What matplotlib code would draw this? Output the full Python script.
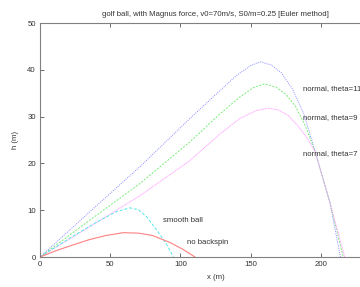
import matplotlib
matplotlib.use("Agg")
import matplotlib.pyplot as plt

# ---- data ----
theta11_x = [0, 35.6, 71.2, 106.8, 128, 140, 150, 157, 165, 172, 180, 188, 196, 206.6, 214]
theta11_y = [0, 9.7, 19.3, 29.6, 35.5, 38.8, 40.9, 41.7, 41.0, 39.3, 35.8, 30.5, 22.5, 11.5, 0]

theta9_x = [0, 35.6, 71.2, 106.8, 128.2, 142.4, 152, 160, 168, 175, 182, 189, 196, 206.6, 216]
theta9_y = [0, 7.9, 15.7, 24.6, 30.6, 34.2, 36.2, 37.0, 36.3, 34.8, 32.2, 28.0, 22.5, 11.5, 0]

theta7_x = [0, 35.6, 71.2, 106.8, 128.2, 142.4, 154, 163, 170, 177, 184, 190, 196, 206.6, 217]
theta7_y = [0, 6.5, 13.1, 20.6, 26.3, 29.6, 31.3, 31.8, 31.4, 30.2, 27.9, 25.5, 22.5, 11.5, 0]

smooth_x = [0, 20, 40, 54.6, 64, 70, 76, 83, 90, 95]
smooth_y = [0, 3.8, 7.4, 9.7, 10.5, 10.1, 8.6, 5.8, 2.8, 0]

nospin_x = [0, 11.9, 23.7, 35, 47, 59.4, 70, 80, 92.6, 102, 110.4]
nospin_y = [0, 1.4, 2.6, 3.7, 4.6, 5.2, 5.1, 4.6, 3.1, 1.6, 0]

labels = ["normal, theta=11", "normal, theta=9", "normal, theta=7", "smooth ball", "no backspin"]
label_pos = [(187, 35.9), (187, 29.9), (187, 22.0), (87.6, 7.9), (104.7, 3.06)]

xticks = [0, 50, 100, 150, 200]
yticks = [0, 10, 20, 30, 40, 50]

title = "golf ball, with Magnus force, v0=70m/s, S0/m=0.25 [Euler method]"

plt.rcParams['font.family'] = ['Liberation Sans', 'DejaVu Sans']
fs = 5.6

fig = plt.figure(figsize=(3.6, 2.87), dpi=100)
# axes: left px 40, right px 391 (beyond figure), top px 23, bottom px 257
ax = fig.add_axes([40/360, 1-257/287, 351/360, 234/287])

ax.plot(theta11_x, theta11_y, color='#8c8cff', lw=0.7, ls=(0, (1, 1.2)))
ax.plot(theta9_x, theta9_y, color='#78ec78', lw=0.7, ls=(0, (2, 1.5)))
ax.plot(theta7_x, theta7_y, color='#ffa0ff', lw=0.7, ls=(0, (1, 0.6)))
ax.plot(smooth_x, smooth_y, color='#50eaea', lw=0.7, ls=(0, (3, 2)))
ax.plot(nospin_x, nospin_y, color='#ff8080', lw=0.8, ls='-')

for t, (x, y) in zip(labels, label_pos):
    ax.text(x, y, t, fontsize=fs, color='#333333', va='center', ha='left')

ax.set_xlim(0, 250)
ax.set_ylim(0, 50)
ax.set_xticks(xticks)
ax.set_yticks(yticks)
ax.tick_params(direction='in', length=3, width=0.6, colors='#555555',
               labelsize=fs, labelcolor='#333333', top=True, right=True, pad=3)
for s in ax.spines.values():
    s.set_color('#808080')
    s.set_linewidth(0.8)

ax.set_title(title, fontsize=fs, color='#333333', pad=5)
ax.set_xlabel("x (m)", fontsize=fs, color='#333333', labelpad=4)
ax.set_ylabel("h (m)", fontsize=fs, color='#333333', labelpad=6)

fig.savefig("out.png", dpi=100)
